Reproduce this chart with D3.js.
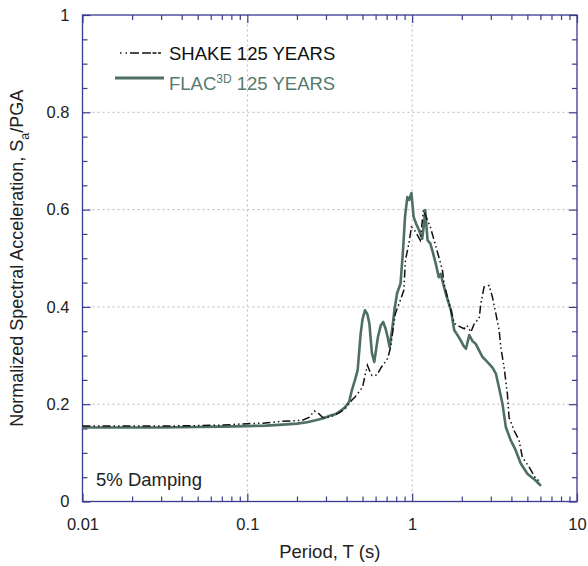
<!DOCTYPE html>
<html>
<head>
<meta charset="utf-8">
<script src="https://cdn.jsdelivr.net/npm/d3@7"></script>
<style>
body { margin: 0; background: #fff; }
text { font-family: "Liberation Sans", Arial, sans-serif; }
</style>
</head>
<body>
<div id="chart"></div>
<script>
// values
var flacT = [0.01, 0.015, 0.02, 0.03, 0.05, 0.07, 0.1, 0.13, 0.164, 0.2, 0.23, 0.26, 0.29, 0.32, 0.345, 0.37, 0.39, 0.415, 0.43, 0.45, 0.467, 0.487, 0.5, 0.517, 0.535, 0.55, 0.57, 0.589, 0.62, 0.645, 0.667, 0.69, 0.71, 0.73, 0.76, 0.78, 0.81, 0.85, 0.88, 0.905, 0.935, 0.96, 0.99, 1.02, 1.06, 1.1, 1.15, 1.18, 1.2, 1.24, 1.29, 1.34, 1.39, 1.45, 1.49, 1.56, 1.6, 1.72, 1.8, 1.9, 1.97, 2.05, 2.12, 2.22, 2.32, 2.43, 2.55, 2.67, 2.8, 2.93, 3.07, 3.22, 3.36, 3.53, 3.7, 3.96, 4.25, 4.56, 5.0, 5.3, 5.62, 5.85, 6.05];
var flacSa = [0.152, 0.152, 0.152, 0.152, 0.153, 0.154, 0.155, 0.156, 0.158, 0.16, 0.163, 0.167, 0.171, 0.177, 0.18, 0.187, 0.193, 0.205, 0.228, 0.25, 0.27, 0.345, 0.375, 0.393, 0.385, 0.366, 0.305, 0.287, 0.338, 0.362, 0.369, 0.355, 0.338, 0.317, 0.36, 0.393, 0.428, 0.448, 0.516, 0.585, 0.626, 0.62, 0.634, 0.585, 0.57, 0.558, 0.54, 0.57, 0.599, 0.537, 0.53, 0.51, 0.489, 0.461, 0.468, 0.441, 0.427, 0.393, 0.352, 0.34, 0.331, 0.32, 0.314, 0.342, 0.33, 0.324, 0.31, 0.297, 0.29, 0.283, 0.275, 0.263, 0.235, 0.201, 0.153, 0.126, 0.105, 0.078, 0.057, 0.05, 0.043, 0.037, 0.032];

var shakeT = [0.01, 0.015, 0.02, 0.03, 0.05, 0.07, 0.1, 0.124, 0.164, 0.19, 0.216, 0.237, 0.255, 0.27, 0.286, 0.3, 0.33, 0.36, 0.39, 0.43, 0.45, 0.475, 0.5, 0.52, 0.535, 0.55, 0.57, 0.61, 0.65, 0.68, 0.71, 0.74, 0.77, 0.79, 0.84, 0.89, 0.91, 0.955, 0.99, 1.02, 1.05, 1.12, 1.17, 1.24, 1.29, 1.34, 1.45, 1.527, 1.56, 1.676, 1.8, 1.93, 2.07, 2.15, 2.27, 2.39, 2.55, 2.61, 2.73, 2.93, 3.07, 3.22, 3.37, 3.45, 3.61, 3.78, 3.87, 4.15, 4.45, 4.66, 5.12, 5.62, 6.05];
var shakeSa = [0.155, 0.155, 0.155, 0.155, 0.156, 0.157, 0.16, 0.161, 0.165, 0.166, 0.167, 0.173, 0.186, 0.181, 0.173, 0.172, 0.176, 0.182, 0.19, 0.208, 0.215, 0.225, 0.235, 0.262, 0.28, 0.27, 0.259, 0.26, 0.276, 0.285, 0.294, 0.317, 0.36, 0.386, 0.41, 0.434, 0.496, 0.53, 0.564, 0.56, 0.554, 0.537, 0.599, 0.578, 0.564, 0.544, 0.503, 0.475, 0.448, 0.407, 0.366, 0.36, 0.355, 0.362, 0.348, 0.367, 0.376, 0.407, 0.441, 0.444, 0.42, 0.386, 0.352, 0.317, 0.276, 0.222, 0.173, 0.146, 0.126, 0.091, 0.071, 0.047, 0.04];

var xMajor = [0.01, 0.1, 1, 10];
var xLabels = ["0.01", "0.1", "1", "10"];
var yMajor = [0, 0.2, 0.4, 0.6, 0.8, 1];
var yLabels = ["0", "0.2", "0.4", "0.6", "0.8", "1"];

var width = 588, height = 566;
var margin = {left: 82.5, right: 11, top: 15, bottom: 64.5};
var axisColor = "#3a3a90";
var flacColor = "#4e6f64";

var svg = d3.select("#chart").append("svg")
    .attr("width", width)
    .attr("height", height);

var x = d3.scaleLog().domain([0.01, 10]).range([margin.left, width - margin.right]);
var y = d3.scaleLinear().domain([0, 1]).range([height - margin.bottom, margin.top]);

var xMinor = [];
[0.01, 0.1, 1].forEach(function(d) {
    for (var k = 2; k <= 9; k++) xMinor.push(d * k);
});
var yMinor = d3.range(0, 1.0001, 0.05).filter(function(d) { return Math.round(d * 20) % 4 != 0; });

// grid
svg.append("g").selectAll("line")
    .data([0.1, 1])
    .enter().append("line")
    .attr("x1", d => x(d)).attr("x2", d => x(d))
    .attr("y1", y(0)).attr("y2", y(1))
    .style("stroke", "#b8b8b8").style("stroke-dasharray", "2,3");
svg.append("g").selectAll("line")
    .data([0.2, 0.4, 0.6, 0.8])
    .enter().append("line")
    .attr("x1", x(0.01)).attr("x2", x(10))
    .attr("y1", d => y(d)).attr("y2", d => y(d))
    .style("stroke", "#b8b8b8").style("stroke-dasharray", "2,3");

// axes, ticks pointing inward
function styleAxis(g) {
    g.select(".domain").remove();
    g.selectAll("line").style("stroke", axisColor).style("stroke-width", 1.2);
    g.selectAll("text").style("font-size", "16.5px").style("fill", "#222");
}

var b = y(0), t = y(1), l = x(0.01), r = x(10);

svg.append("g").attr("transform", "translate(0," + b + ")")
    .call(d3.axisBottom(x).tickValues(xMajor).tickSize(-8).tickPadding(17)
        .tickFormat(function(d, i) { return xLabels[i]; }))
    .call(styleAxis);
svg.append("g").attr("transform", "translate(0," + b + ")")
    .call(d3.axisBottom(x).tickValues(xMinor).tickSize(-5).tickFormat(""))
    .call(styleAxis);
svg.append("g").attr("transform", "translate(0," + t + ")")
    .call(d3.axisTop(x).tickValues(xMajor).tickSize(-8).tickFormat(""))
    .call(styleAxis);
svg.append("g").attr("transform", "translate(0," + t + ")")
    .call(d3.axisTop(x).tickValues(xMinor).tickSize(-5).tickFormat(""))
    .call(styleAxis);

svg.append("g").attr("transform", "translate(" + l + ",0)")
    .call(d3.axisLeft(y).tickValues(yMajor).tickSize(-8).tickPadding(13)
        .tickFormat(function(d, i) { return yLabels[i]; }))
    .call(styleAxis);
svg.append("g").attr("transform", "translate(" + l + ",0)")
    .call(d3.axisLeft(y).tickValues(yMinor).tickSize(-5).tickFormat(""))
    .call(styleAxis);
svg.append("g").attr("transform", "translate(" + r + ",0)")
    .call(d3.axisRight(y).tickValues(yMajor).tickSize(-8).tickFormat(""))
    .call(styleAxis);
svg.append("g").attr("transform", "translate(" + r + ",0)")
    .call(d3.axisRight(y).tickValues(yMinor).tickSize(-5).tickFormat(""))
    .call(styleAxis);

// frame
svg.append("rect")
    .attr("x", l).attr("y", t)
    .attr("width", r - l).attr("height", b - t)
    .style("fill", "none").style("stroke", axisColor).style("stroke-width", 1.3);

// curves
var line = d3.line()
    .x(d => x(d[0]))
    .y(d => y(d[1]));

svg.append("path")
    .datum(d3.zip(flacT, flacSa))
    .attr("d", line)
    .style("fill", "none").style("stroke", flacColor)
    .style("stroke-width", 2.6).style("stroke-linejoin", "round");

svg.append("path")
    .datum(d3.zip(shakeT, shakeSa))
    .attr("d", line)
    .style("fill", "none").style("stroke", "#111")
    .style("stroke-width", 1.5)
    .style("stroke-dasharray", "8,3,1.5,3,1.5,3");

// legend
svg.append("line")
    .attr("x1", 120).attr("x2", 162).attr("y1", 53).attr("y2", 53)
    .style("stroke", "#111").style("stroke-width", 1.5)
    .style("stroke-dasharray", "1.5,4,1.5,3,9,3,9");
svg.append("text")
    .attr("x", 169).attr("y", 60)
    .style("font-size", "18.5px").style("fill", "#111")
    .text("SHAKE 125 YEARS");

svg.append("line")
    .attr("x1", 115).attr("x2", 164).attr("y1", 78).attr("y2", 78)
    .style("stroke", flacColor).style("stroke-width", 3);
var ft = svg.append("text")
    .attr("x", 169).attr("y", 90)
    .style("font-size", "18.5px").style("fill", "#567a6e");
ft.append("tspan").text("FLAC");
ft.append("tspan").attr("dy", -7).style("font-size", "12px").text("3D");
ft.append("tspan").attr("dy", 7).text(" 125 YEARS");

svg.append("text")
    .attr("x", 96).attr("y", 486)
    .style("font-size", "18.5px").style("fill", "#222")
    .text("5% Damping");

// axis titles
svg.append("text")
    .attr("x", (l + r) / 2).attr("y", 558)
    .attr("text-anchor", "middle")
    .style("font-size", "18.5px").style("fill", "#222")
    .text("Period, T (s)");

var yt = svg.append("text")
    .attr("transform", "translate(23," + ((t + b) / 2) + ") rotate(-90)")
    .attr("text-anchor", "middle")
    .style("font-size", "18px").style("fill", "#222");
yt.append("tspan").text("Normalized Spectral Acceleration, S");
yt.append("tspan").attr("dy", 6).style("font-size", "12.5px").text("a");
yt.append("tspan").attr("dy", -6).text("/PGA");
</script>
</body>
</html>
